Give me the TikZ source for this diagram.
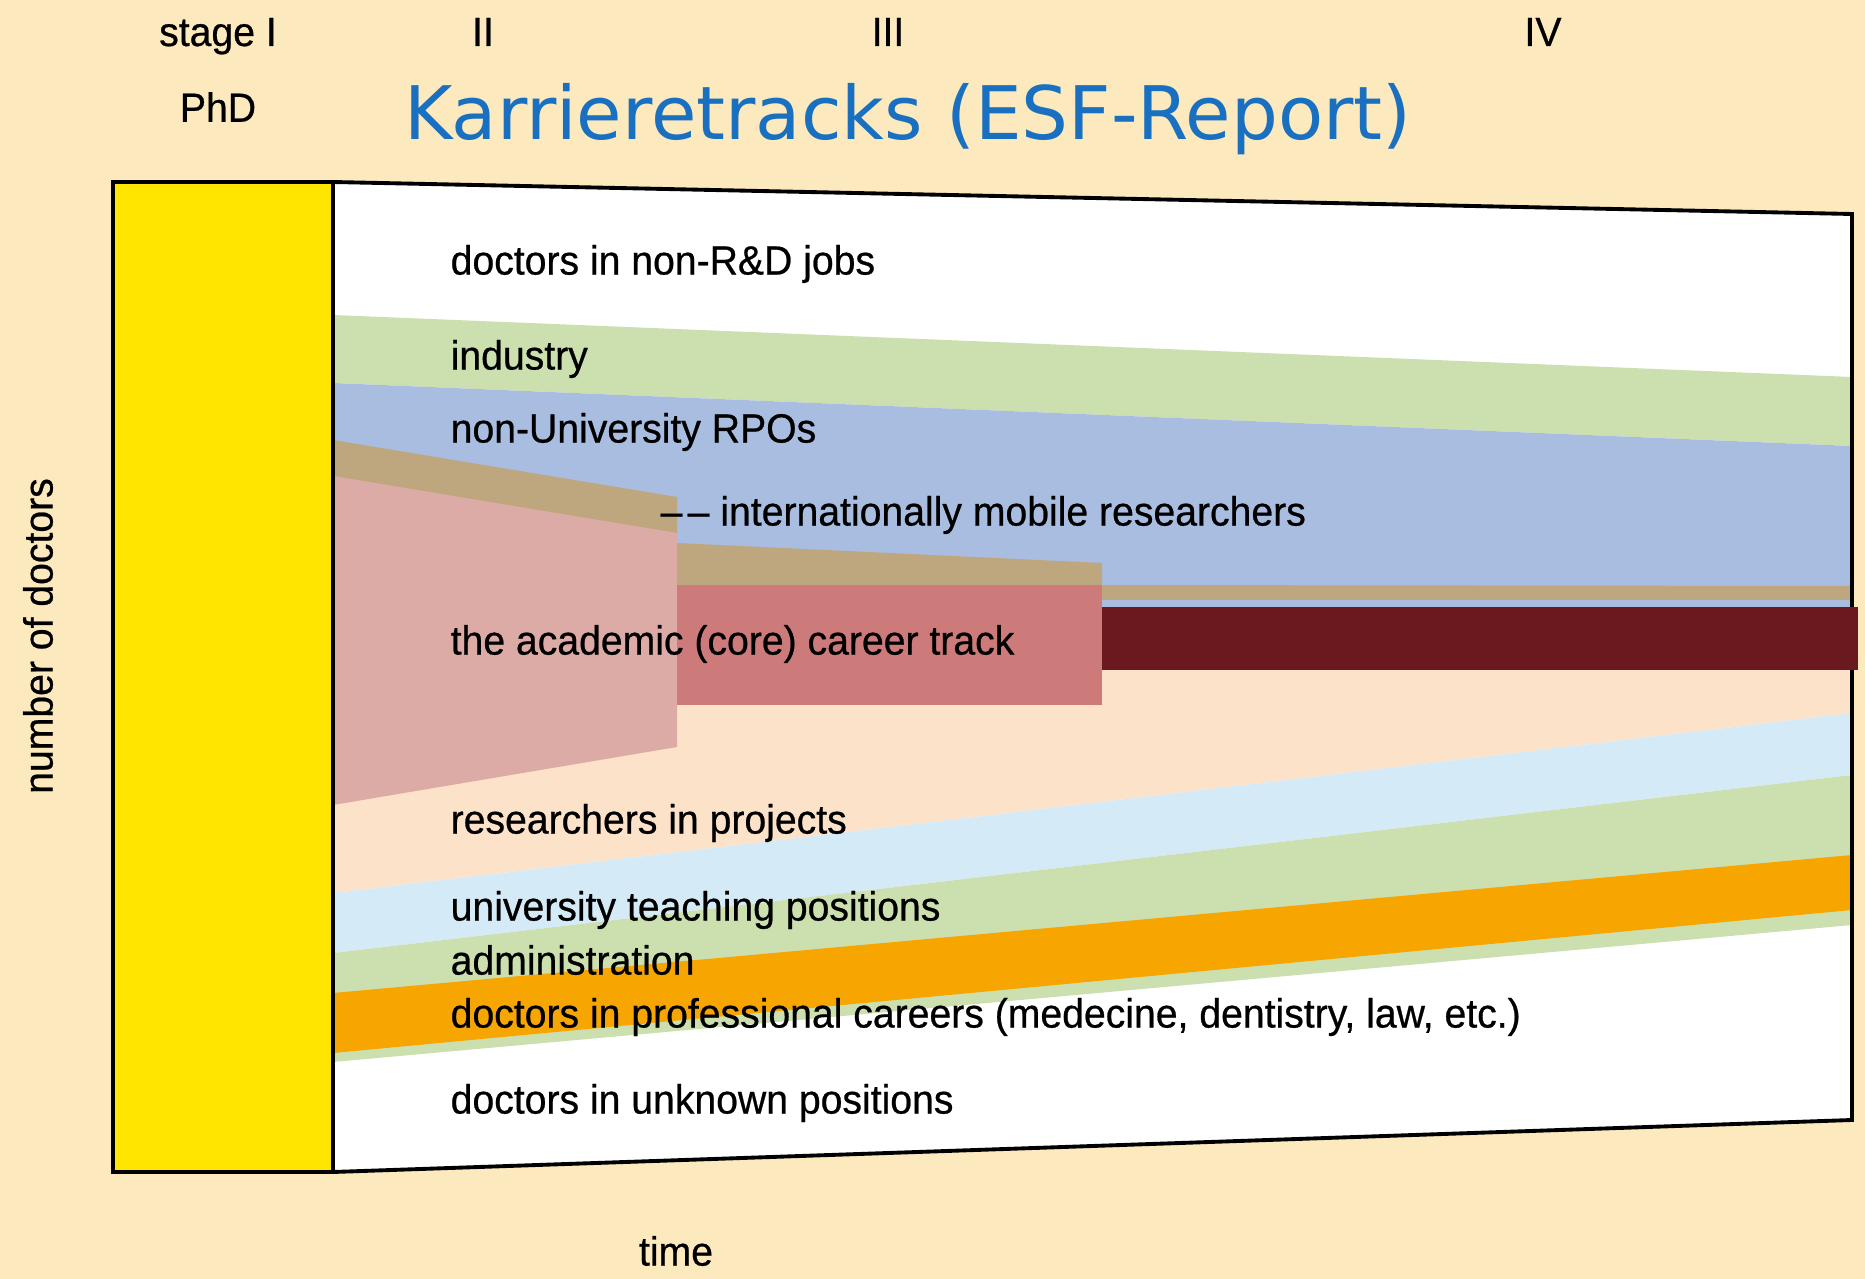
\documentclass[tikz,border=0pt]{standalone}
\usepackage{fontspec}
\setmainfont{Liberation Sans}
\newfontfamily\titlefont{DejaVu Sans}
\newfontfamily\chartfont[FakeBold=0.6, FakeStretch=0.96]{Liberation Sans}
\usepackage{tikz}
\definecolor{paper}{RGB}{252,233,190}
\definecolor{phdyellow}{RGB}{255,230,0}
\definecolor{industrygreen}{RGB}{204,224,175}
\definecolor{rpoblue}{RGB}{168,189,224}
\definecolor{mobilebrown}{RGB}{190,166,126}
\definecolor{corepink}{RGB}{221,171,166}
\definecolor{corered}{RGB}{205,122,122}
\definecolor{coredark}{RGB}{106,26,30}
\definecolor{projectpeach}{RGB}{253,226,202}
\definecolor{teachblue}{RGB}{213,234,247}
\definecolor{profrange}{RGB}{247,165,0}
\definecolor{titleblue}{RGB}{26,112,192}
\newcommand{\trackL}{333}
\newcommand{\trackR}{1852}

\begin{document}
\begin{tikzpicture}[x=0.01cm, y=-0.01cm]
  \tikzset{track label/.style={anchor=west, inner sep=0pt, font=\chartfont\fontsize{11.6}{13}\selectfont},
           stage label/.style={inner sep=0pt, font=\chartfont\fontsize{11.6}{13}\selectfont}}
  \useasboundingbox[fill=paper] (0,0) rectangle (1865,1279);
  % frame of the chart
  \fill[white] (\trackL,182) -- (\trackR,214) -- (\trackR,1120) -- (\trackL,1172) -- cycle;
  % bands, top to bottom
  \fill[industrygreen] (\trackL,315) -- (\trackR,377) -- (\trackR,446) -- (\trackL,383) -- cycle;
  \fill[rpoblue] (\trackL,383) -- (\trackR,446) -- (\trackR,620) -- (\trackL,620) -- cycle;
  \fill[projectpeach] (\trackL,520) -- (1102,620) -- (\trackR,640) -- (\trackR,713) -- (\trackL,893) -- cycle;
  \fill[teachblue] (\trackL,893) -- (\trackR,713) -- (\trackR,775) -- (\trackL,953) -- cycle;
  \fill[industrygreen] (\trackL,953) -- (\trackR,775) -- (\trackR,925) -- (\trackL,1062) -- cycle;
  \fill[profrange] (\trackL,993) -- (\trackR,855) -- (\trackR,910) -- (\trackL,1053) -- cycle;
  % academic track
  \fill[mobilebrown] (\trackL,440) -- (677,497) -- (677,540) -- (\trackL,476) -- cycle;
  \fill[corepink] (\trackL,476) -- (677,533) -- (677,747) -- (\trackL,805) -- cycle;
  \fill[mobilebrown] (677,543) -- (1102,563) -- (1102,590) -- (677,590) -- cycle;
  \fill[corered] (677,585) rectangle (1102,705);
  \fill[mobilebrown] (1102,585) -- (\trackR,586) -- (\trackR,600) -- (1102,600) -- cycle;
  \draw[line width=1.1pt] (\trackL,182) -- (\trackR,214) -- (\trackR,1120) -- (\trackL,1172);
  \fill[coredark] (1102,607) rectangle (1858,670);
  \draw[line width=1.1pt, fill=phdyellow] (113,182) rectangle (\trackL,1172);

  \node[stage label, anchor=base] (stage1) at (218,46) {stage I};
  \node[stage label, anchor=base] (stage2) at (483,46) {II};
  \node[stage label, anchor=base] (stage3) at (888,46) {III};
  \node[stage label, anchor=base] (stage4) at (1543,46) {IV};
  \node[stage label] (phd) at (218,107) {PhD};
  \node[anchor=base, inner sep=0pt, text=titleblue, font=\titlefont\fontsize{21}{25}\selectfont] (title) at (908,140) {Karrieretracks (ESF-Report)};

  \node[track label] (nonrd) at (450,264) {doctors in non-R\&D jobs};
  \node[track label] (industry) at (450,359) {industry};
  \node[track label] (rpo) at (450,432) {non-University RPOs};
  \node[track label] (mobile) at (660,515) {\textendash\kern1.5pt\textendash\ internationally mobile researchers};
  \node[track label] (core) at (450,644) {the academic (core) career track};
  \node[track label] (projects) at (450,823) {researchers in projects};
  \node[track label] (teaching) at (450,910) {university teaching positions};
  \node[track label] (admin) at (450,960) {administration};
  \node[track label] (prof) at (450,1017) {doctors in professional careers (medecine, dentistry, law, etc.)};
  \node[track label] (unknown) at (450,1103) {doctors in unknown positions};

  \node[stage label] (time) at (676,1251) {time};
  \node[stage label, rotate=90] (number) at (38,636) {number of doctors};
\end{tikzpicture}
\end{document}
